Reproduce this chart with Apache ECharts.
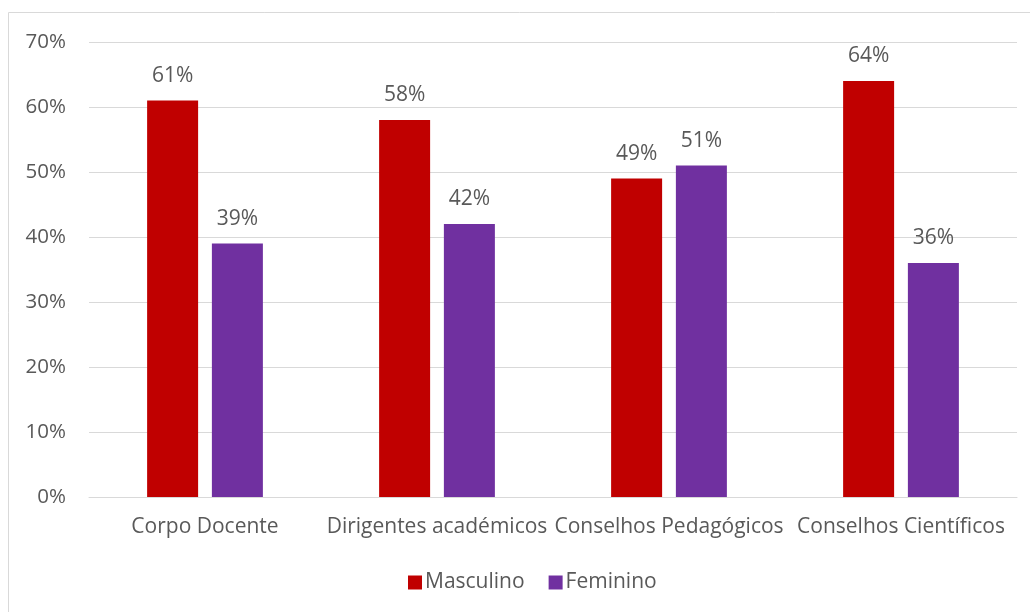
<!DOCTYPE html>
<html>
<head>
<meta charset="utf-8">
<script src="https://cdn.jsdelivr.net/npm/echarts@6/dist/echarts.min.js"></script>
<style>html,body{margin:0;padding:0;background:#fff;}#c{width:1030px;height:612px;}</style>
</head>
<body>
<div id="c"></div>
<script>
var categories = ["Corpo Docente", "Dirigentes académicos", "Conselhos Pedagógicos", "Conselhos Científicos"];
var masculino = [61, 58, 49, 64];
var feminino = [39, 42, 51, 36];
var yTicks = [0, 10, 20, 30, 40, 50, 60, 70];

var FONT = "Open Sans";
var TXT = "#595959";
var FS = 21;
var chart = echarts.init(document.getElementById("c"));
chart.setOption({
  animation: false,
  textStyle: { fontFamily: FONT },
  graphic: [{
    type: "rect", shape: { x: 8.5, y: 12.5, width: 1200, height: 800 },
    style: { fill: "none", stroke: "#d9d9d9", lineWidth: 1 }, silent: true
  }],
  grid: { left: 89, right: 13, top: 42, bottom: 115, containLabel: false },
  legend: {
    left: 403, top: 567, itemWidth: 14, itemHeight: 14, itemGap: 24,
    icon: "rect",
    textStyle: { color: TXT, fontSize: FS, fontFamily: FONT, padding: [0, 0, 0, -2] },
    data: ["Masculino", "Feminino"]
  },
  xAxis: {
    type: "category", data: categories,
    axisLine: { lineStyle: { color: "#d9d9d9", width: 1 } },
    axisTick: { show: false },
    axisLabel: { color: TXT, fontSize: FS, fontFamily: FONT, margin: 20, interval: 0 }
  },
  yAxis: {
    type: "value", min: yTicks[0], max: yTicks[yTicks.length - 1], interval: 10,
    axisLine: { show: false }, axisTick: { show: false },
    splitLine: { lineStyle: { color: "#d9d9d9", width: 1 } },
    axisLabel: { color: TXT, fontSize: 20.5, fontFamily: FONT, margin: 23, formatter: "{value}%" }
  },
  series: [{
    name: "Masculino", type: "bar", data: masculino, barWidth: 51, barGap: "27%",
    itemStyle: { color: "#C00000" },
    label: { show: true, position: "top", distance: 14, color: TXT, fontSize: FS, fontFamily: FONT, formatter: "{c}%" }
  }, {
    name: "Feminino", type: "bar", data: feminino, barWidth: 51,
    itemStyle: { color: "#7030A0" },
    label: { show: true, position: "top", distance: 14, color: TXT, fontSize: FS, fontFamily: FONT, formatter: "{c}%" }
  }]
});
</script>
</body>
</html>
